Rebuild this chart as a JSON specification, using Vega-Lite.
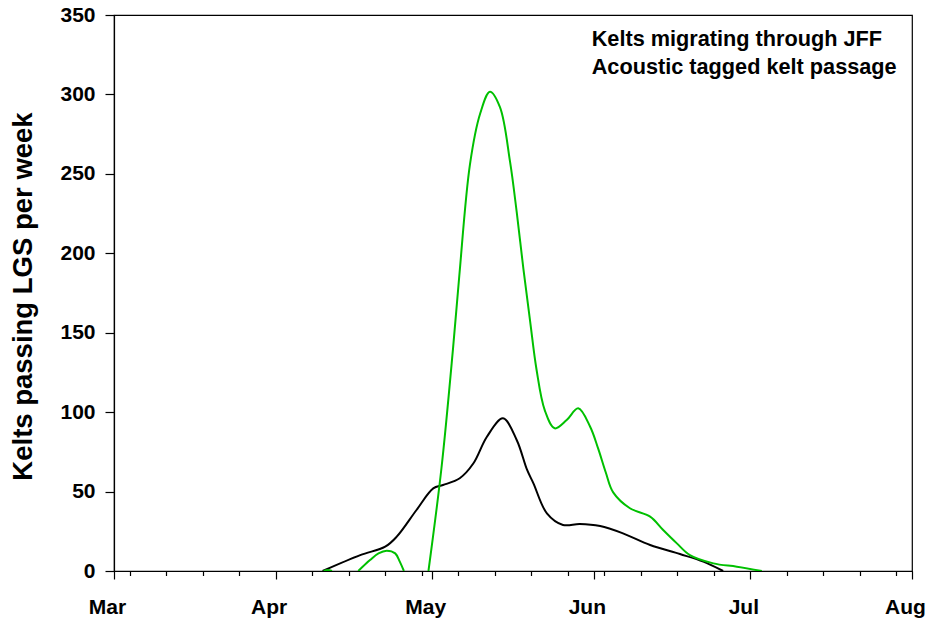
{
  "$schema": "https://vega.github.io/schema/vega-lite/v6.json",
  "autosize": {"type": "none"},
  "width": 798,
  "height": 556,
  "padding": {"left": 114, "top": 15, "right": 17, "bottom": 49},
  "background": "white",
  "config": {
    "font": "Liberation Sans",
    "view": {"stroke": "black", "strokeWidth": 1.2},
    "axis": {"grid": false, "domainColor": "black", "tickColor": "black", "labelColor": "black", "titleColor": "black", "labelFont": "Liberation Sans", "titleFont": "Liberation Sans", "labelFontWeight": "bold", "titleFontWeight": "bold", "domainWidth": 1.2, "tickWidth": 1.2}
  },
  "data": {
    "values": [
      {"date": "2011-04-10T00:00:00Z", "value": 0, "series": "Kelts migrating through JFF", "seg": "k"},
      {"date": "2011-04-17T05:00:00Z", "value": 10, "series": "Kelts migrating through JFF", "seg": "k"},
      {"date": "2011-04-22T00:00:00Z", "value": 15.3, "series": "Kelts migrating through JFF", "seg": "k"},
      {"date": "2011-04-24T05:00:00Z", "value": 21.6, "series": "Kelts migrating through JFF", "seg": "k"},
      {"date": "2011-04-28T00:00:00Z", "value": 38.4, "series": "Kelts migrating through JFF", "seg": "k"},
      {"date": "2011-05-01T05:00:00Z", "value": 52, "series": "Kelts migrating through JFF", "seg": "k"},
      {"date": "2011-05-03T02:00:00Z", "value": 54.1, "series": "Kelts migrating through JFF", "seg": "k"},
      {"date": "2011-05-06T07:00:00Z", "value": 58.4, "series": "Kelts migrating through JFF", "seg": "k"},
      {"date": "2011-05-08T22:00:00Z", "value": 67.8, "series": "Kelts migrating through JFF", "seg": "k"},
      {"date": "2011-05-11T12:00:00Z", "value": 84.5, "series": "Kelts migrating through JFF", "seg": "k"},
      {"date": "2011-05-14T14:00:00Z", "value": 96.1, "series": "Kelts migrating through JFF", "seg": "k"},
      {"date": "2011-05-17T05:00:00Z", "value": 82.5, "series": "Kelts migrating through JFF", "seg": "k"},
      {"date": "2011-05-19T05:00:00Z", "value": 63.6, "series": "Kelts migrating through JFF", "seg": "k"},
      {"date": "2011-05-20T10:00:00Z", "value": 55.2, "series": "Kelts migrating through JFF", "seg": "k"},
      {"date": "2011-05-23T00:00:00Z", "value": 36.3, "series": "Kelts migrating through JFF", "seg": "k"},
      {"date": "2011-05-26T02:00:00Z", "value": 29, "series": "Kelts migrating through JFF", "seg": "k"},
      {"date": "2011-05-29T07:00:00Z", "value": 29.6, "series": "Kelts migrating through JFF", "seg": "k"},
      {"date": "2011-06-02T05:00:00Z", "value": 28.3, "series": "Kelts migrating through JFF", "seg": "k"},
      {"date": "2011-06-06T14:00:00Z", "value": 23.7, "series": "Kelts migrating through JFF", "seg": "k"},
      {"date": "2011-06-11T19:00:00Z", "value": 16.4, "series": "Kelts migrating through JFF", "seg": "k"},
      {"date": "2011-06-17T12:00:00Z", "value": 10.7, "series": "Kelts migrating through JFF", "seg": "k"},
      {"date": "2011-06-22T00:00:00Z", "value": 5.9, "series": "Kelts migrating through JFF", "seg": "k"},
      {"date": "2011-06-25T19:00:00Z", "value": 0, "series": "Kelts migrating through JFF", "seg": "k"},
      {"date": "2011-04-10T05:00:00Z", "value": 0, "series": "Acoustic tagged kelt passage", "seg": "g1"},
      {"date": "2011-04-11T00:00:00Z", "value": 0.7, "series": "Acoustic tagged kelt passage", "seg": "g1"},
      {"date": "2011-04-11T19:00:00Z", "value": 0, "series": "Acoustic tagged kelt passage", "seg": "g1"},
      {"date": "2011-04-16T20:00:00Z", "value": 0, "series": "Acoustic tagged kelt passage", "seg": "g2"},
      {"date": "2011-04-19T02:00:00Z", "value": 6.9, "series": "Acoustic tagged kelt passage", "seg": "g2"},
      {"date": "2011-04-20T17:00:00Z", "value": 11.1, "series": "Acoustic tagged kelt passage", "seg": "g2"},
      {"date": "2011-04-22T07:00:00Z", "value": 12.8, "series": "Acoustic tagged kelt passage", "seg": "g2"},
      {"date": "2011-04-23T22:00:00Z", "value": 11.1, "series": "Acoustic tagged kelt passage", "seg": "g2"},
      {"date": "2011-04-24T19:00:00Z", "value": 5.9, "series": "Acoustic tagged kelt passage", "seg": "g2"},
      {"date": "2011-04-25T14:00:00Z", "value": 0, "series": "Acoustic tagged kelt passage", "seg": "g2"},
      {"date": "2011-04-30T07:00:00Z", "value": 0, "series": "Acoustic tagged kelt passage", "seg": "g3"},
      {"date": "2011-05-02T19:00:00Z", "value": 65, "series": "Acoustic tagged kelt passage", "seg": "g3"},
      {"date": "2011-05-05T00:00:00Z", "value": 140, "series": "Acoustic tagged kelt passage", "seg": "g3"},
      {"date": "2011-05-06T05:00:00Z", "value": 186, "series": "Acoustic tagged kelt passage", "seg": "g3"},
      {"date": "2011-05-08T06:00:00Z", "value": 256, "series": "Acoustic tagged kelt passage", "seg": "g3"},
      {"date": "2011-05-10T05:00:00Z", "value": 288, "series": "Acoustic tagged kelt passage", "seg": "g3"},
      {"date": "2011-05-12T02:00:00Z", "value": 301.7, "series": "Acoustic tagged kelt passage", "seg": "g3"},
      {"date": "2011-05-14T00:00:00Z", "value": 292, "series": "Acoustic tagged kelt passage", "seg": "g3"},
      {"date": "2011-05-15T22:00:00Z", "value": 258, "series": "Acoustic tagged kelt passage", "seg": "g3"},
      {"date": "2011-05-17T05:00:00Z", "value": 226, "series": "Acoustic tagged kelt passage", "seg": "g3"},
      {"date": "2011-05-18T12:00:00Z", "value": 190, "series": "Acoustic tagged kelt passage", "seg": "g3"},
      {"date": "2011-05-19T19:00:00Z", "value": 157, "series": "Acoustic tagged kelt passage", "seg": "g3"},
      {"date": "2011-05-21T00:00:00Z", "value": 127, "series": "Acoustic tagged kelt passage", "seg": "g3"},
      {"date": "2011-05-22T14:00:00Z", "value": 101.3, "series": "Acoustic tagged kelt passage", "seg": "g3"},
      {"date": "2011-05-24T12:00:00Z", "value": 89.8, "series": "Acoustic tagged kelt passage", "seg": "g3"},
      {"date": "2011-05-26T19:00:00Z", "value": 95, "series": "Acoustic tagged kelt passage", "seg": "g3"},
      {"date": "2011-05-29T00:00:00Z", "value": 102.4, "series": "Acoustic tagged kelt passage", "seg": "g3"},
      {"date": "2011-05-31T07:00:00Z", "value": 90.8, "series": "Acoustic tagged kelt passage", "seg": "g3"},
      {"date": "2011-06-01T20:00:00Z", "value": 77, "series": "Acoustic tagged kelt passage", "seg": "g3"},
      {"date": "2011-06-03T07:00:00Z", "value": 62, "series": "Acoustic tagged kelt passage", "seg": "g3"},
      {"date": "2011-06-04T17:00:00Z", "value": 49.5, "series": "Acoustic tagged kelt passage", "seg": "g3"},
      {"date": "2011-06-07T22:00:00Z", "value": 39.5, "series": "Acoustic tagged kelt passage", "seg": "g3"},
      {"date": "2011-06-11T19:00:00Z", "value": 34.2, "series": "Acoustic tagged kelt passage", "seg": "g3"},
      {"date": "2011-06-14T07:00:00Z", "value": 25.8, "series": "Acoustic tagged kelt passage", "seg": "g3"},
      {"date": "2011-06-16T22:00:00Z", "value": 17.4, "series": "Acoustic tagged kelt passage", "seg": "g3"},
      {"date": "2011-06-19T10:00:00Z", "value": 10, "series": "Acoustic tagged kelt passage", "seg": "g3"},
      {"date": "2011-06-23T22:00:00Z", "value": 4.8, "series": "Acoustic tagged kelt passage", "seg": "g3"},
      {"date": "2011-06-28T10:00:00Z", "value": 2.7, "series": "Acoustic tagged kelt passage", "seg": "g3"},
      {"date": "2011-07-03T05:00:00Z", "value": 0, "series": "Acoustic tagged kelt passage", "seg": "g3"}
    ]
  },
  "mark": {"type": "line", "interpolate": "catmull-rom", "strokeWidth": 2, "clip": true},
  "encoding": {
    "x": {
      "field": "date",
      "type": "temporal",
      "scale": {"type": "utc", "domain": [{"year": 2011, "month": 3, "date": 1, "utc": true}, {"year": 2011, "month": 8, "date": 1, "utc": true}]},
      "axis": {
        "title": null,
        "values": [
          {"year": 2011, "month": 3, "date": 1, "utc": true},
          {"year": 2011, "month": 3, "date": 4, "utc": true},
          {"year": 2011, "month": 3, "date": 11, "utc": true},
          {"year": 2011, "month": 3, "date": 18, "utc": true},
          {"year": 2011, "month": 3, "date": 25, "utc": true},
          {"year": 2011, "month": 4, "date": 1, "utc": true},
          {"year": 2011, "month": 4, "date": 8, "utc": true},
          {"year": 2011, "month": 4, "date": 15, "utc": true},
          {"year": 2011, "month": 4, "date": 22, "utc": true},
          {"year": 2011, "month": 4, "date": 29, "utc": true},
          {"year": 2011, "month": 5, "date": 1, "utc": true},
          {"year": 2011, "month": 5, "date": 6, "utc": true},
          {"year": 2011, "month": 5, "date": 13, "utc": true},
          {"year": 2011, "month": 5, "date": 20, "utc": true},
          {"year": 2011, "month": 5, "date": 27, "utc": true},
          {"year": 2011, "month": 6, "date": 1, "utc": true},
          {"year": 2011, "month": 6, "date": 3, "utc": true},
          {"year": 2011, "month": 6, "date": 10, "utc": true},
          {"year": 2011, "month": 6, "date": 17, "utc": true},
          {"year": 2011, "month": 6, "date": 24, "utc": true},
          {"year": 2011, "month": 7, "date": 1, "utc": true},
          {"year": 2011, "month": 7, "date": 8, "utc": true},
          {"year": 2011, "month": 7, "date": 15, "utc": true},
          {"year": 2011, "month": 7, "date": 22, "utc": true},
          {"year": 2011, "month": 7, "date": 29, "utc": true},
          {"year": 2011, "month": 8, "date": 1, "utc": true}
        ],
        "labelExpr": "utcdate(datum.value) == 1 ? utcFormat(datum.value, '%b') : ''",
        "tickSize": {"condition": {"test": "utcdate(datum.value) == 1", "value": 8}, "value": 4.5},
        "labelFontSize": 21,
        "labelPadding": 17,
        "labelOffset": -7,
        "labelFlush": false,
        "labelOverlap": false
      }
    },
    "y": {
      "field": "value",
      "type": "quantitative",
      "scale": {"domain": [0, 350], "nice": false},
      "axis": {
        "values": [0, 50, 100, 150, 200, 250, 300, 350],
        "title": "Kelts passing LGS per week",
        "titleFontSize": 27.5,
        "titleX": -83,
        "titleY": 281,
        "titleAngle": -90,
        "titleAlign": "center",
        "titleBaseline": "alphabetic",
        "labelFontSize": 21,
        "tickSize": 9,
        "labelPadding": 10,
        "labelFlush": false
      }
    },
    "color": {
      "field": "series",
      "type": "nominal",
      "scale": {"domain": ["Kelts migrating through JFF", "Acoustic tagged kelt passage"], "range": ["#000000", "#00c000"]},
      "legend": {
        "title": null,
        "orient": "none",
        "legendX": 456,
        "legendY": 13,
        "padding": 0,
        "symbolSize": 0,
        "symbolStrokeWidth": 0,
        "symbolOpacity": 0,
        "labelOffset": 0,
        "labelLimit": 500,
        "labelFontSize": 21.7,
        "labelFontWeight": "bold",
        "labelFont": "Liberation Sans",
        "labelColor": "black",
        "rowPadding": 5.5
      }
    },
    "detail": {"field": "seg", "type": "nominal"}
  }
}
